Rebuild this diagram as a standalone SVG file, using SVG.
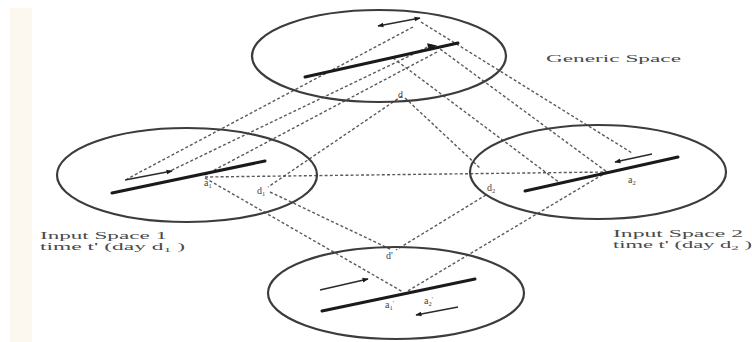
<svg xmlns="http://www.w3.org/2000/svg" width="752" height="342" viewBox="0 0 752 342">
<defs>
<style>
.ell{fill:none;stroke:#3c3c3c;stroke-width:2.2}
.heavy{stroke:#1a1a1a;stroke-width:3;stroke-linecap:round}
.thin{stroke:#2a2a2a;stroke-width:1.6}
.dash{fill:none;stroke:#5a5a5a;stroke-width:1.4;stroke-dasharray:3 2.2}
.lbl{font-family:"Liberation Serif",serif;font-size:10px;fill:#444}
.cap{font-family:"Liberation Serif",serif;font-size:10.5px;fill:#4a4a4a}
</style>
<marker id="ah" viewBox="0 0 10 10" refX="9" refY="5" markerWidth="8" markerHeight="6" orient="auto-start-reverse" markerUnits="userSpaceOnUse">
<path d="M0,1 L10,5 L0,9 Z" fill="#1a1a1a"/>
</marker>
</defs>
<rect x="0" y="0" width="752" height="342" fill="#ffffff"/>
<rect x="10" y="8" width="22" height="334" fill="#fdf8ef"/>

<g id="connectors">
<line class="dash" x1="413" y1="27" x2="127" y2="179"/>
<line class="dash" x1="432" y1="45" x2="168" y2="172"/>
<line class="dash" x1="437" y1="52" x2="205" y2="175"/>
<line class="dash" x1="421" y1="22" x2="632" y2="153"/>
<line class="dash" x1="436" y1="46" x2="607" y2="172"/>
<line class="dash" x1="393" y1="58" x2="560" y2="183"/>
<line class="dash" x1="205" y1="177" x2="607" y2="172"/>
<line class="dash" x1="402" y1="96" x2="268" y2="187"/>
<line class="dash" x1="405" y1="98" x2="480" y2="168"/>
<line class="dash" x1="270" y1="192" x2="392" y2="250"/>
<line class="dash" x1="486" y1="195" x2="396" y2="250"/>
<line class="dash" x1="205" y1="178" x2="403" y2="292"/>
<line class="dash" x1="607" y1="172" x2="406" y2="292"/>
</g>

<g id="generic-space">
<ellipse class="ell" cx="379" cy="56" rx="127" ry="46"/>
<line class="heavy" x1="305" y1="77" x2="458" y2="43"/>
<path d="M437,45.5 L427,43.2 L429,50.6 Z" fill="#1a1a1a"/>
<line class="thin" x1="378" y1="26" x2="420" y2="18" marker-start="url(#ah)" marker-end="url(#ah)"/>
<text class="lbl" x="398" y="98">d</text>
<text class="cap" x="546" y="62" textLength="135" lengthAdjust="spacingAndGlyphs">Generic Space</text>
</g>

<g id="input-space-1">
<ellipse class="ell" cx="187" cy="175" rx="130" ry="47"/>
<line class="heavy" x1="112" y1="193" x2="265" y2="161"/>
<line class="thin" x1="125" y1="180" x2="172" y2="171" marker-end="url(#ah)"/>
<text class="lbl" x="204" y="186">a<tspan dy="2" font-size="6.5">1</tspan></text>
<text class="lbl" x="257" y="194">d<tspan dy="2" font-size="6.5">1</tspan></text>
<text class="cap" x="40" y="239" textLength="127" lengthAdjust="spacingAndGlyphs">Input Space 1</text>
<text class="cap" x="40" y="250" textLength="145" lengthAdjust="spacingAndGlyphs">time t' (day d<tspan dy="2" font-size="7">1</tspan><tspan dy="-2"> )</tspan></text>
</g>

<g id="input-space-2">
<ellipse class="ell" cx="598" cy="172" rx="128" ry="47"/>
<line class="heavy" x1="525" y1="191" x2="678" y2="157"/>
<line class="thin" x1="652" y1="154" x2="615" y2="162" marker-end="url(#ah)"/>
<text class="lbl" x="628" y="183">a<tspan dy="2" font-size="6.5">2</tspan></text>
<text class="lbl" x="487" y="191">d<tspan dy="2" font-size="6.5">2</tspan></text>
<text class="cap" x="613" y="237" textLength="130" lengthAdjust="spacingAndGlyphs">Input Space 2</text>
<text class="cap" x="613" y="248" textLength="139" lengthAdjust="spacingAndGlyphs">time t' (day d<tspan dy="2" font-size="7">2</tspan><tspan dy="-2"> )</tspan></text>
</g>

<g id="blend">
<ellipse class="ell" cx="396" cy="293" rx="128" ry="46"/>
<line class="heavy" x1="322" y1="311" x2="475" y2="279"/>
<line class="thin" x1="320" y1="290" x2="368" y2="279" marker-end="url(#ah)"/>
<line class="thin" x1="458" y1="307" x2="416" y2="315" marker-end="url(#ah)"/>
<text class="lbl" x="386" y="259">d'</text>
<text class="lbl" x="385" y="308">a<tspan dy="2" font-size="6.5">1</tspan><tspan dy="-5" font-size="6.5">'</tspan></text>
<text class="lbl" x="424" y="304">a<tspan dy="2" font-size="6.5">2</tspan><tspan dy="-5" font-size="6.5">'</tspan></text>
</g>
</svg>
